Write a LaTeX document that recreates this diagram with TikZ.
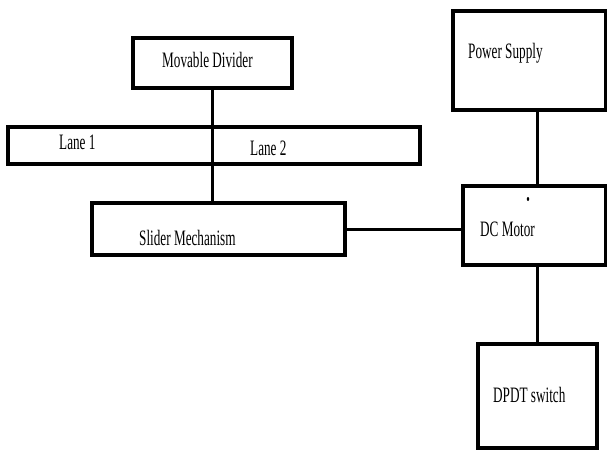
\documentclass[tikz,border=0pt]{standalone}
\usepackage{fontspec}
\setmainfont{Liberation Serif}[FakeStretch=0.6]

\begin{document}
\begin{tikzpicture}[x=1pt, y=-1pt,
        block/.style = {draw,
            line width = 3.5pt,
            inner sep = 0pt,
        },
        lbl/.style = {anchor = west,
            inner sep = 0pt,
            font = \fontsize{22}{24}\selectfont,
        },
        link/.style = {line width = 3pt}]

    \useasboundingbox (0,0) rectangle (607,450);

    % Left part
    \node[block, minimum width = 159pt, minimum height = 50pt] (divider) at (212.5,63) {};
    \node[block, minimum width = 412pt, minimum height = 37pt] (lanes) at (214,145.5) {};
    \node[block, minimum width = 253pt, minimum height = 52pt] (slider) at (218.5,229) {};

    % Right part
    \node[block, minimum width = 153pt, minimum height = 99pt] (supply) at (529.5,60.5) {};
    \node[block, minimum width = 143pt, minimum height = 79pt] (motor) at (534.5,225.5) {};
    \node[block, minimum width = 119pt, minimum height = 104pt] (switch) at (537.5,396) {};

    % Labels
    \node[lbl] (tdivider) at (162,60) {Movable Divider};
    \node[lbl] (tlane1) at (59,142) {Lane 1};
    \node[lbl] (tlane2) at (250,148) {Lane 2};
    \node[lbl] (tslider) at (139,238) {Slider Mechanism};
    \node[lbl] (tsupply) at (468,53) {Power Supply};
    \node[lbl] (tmotor) at (480,229) {DC Motor};
    \node[lbl] (tswitch) at (493,395) {DPDT switch};
    \fill (528,199) ellipse (1.2pt and 2pt);

    % Connections
    \draw[link] (divider.south) -- (divider.south |- slider.north);
    \draw[link] (slider.east) -- (slider.east -| motor.west);
    \draw[link] (supply.south -| switch.north) -- (motor.north -| switch.north);
    \draw[link] (motor.south -| switch.north) -- (switch.north);

\end{tikzpicture}
\end{document}
